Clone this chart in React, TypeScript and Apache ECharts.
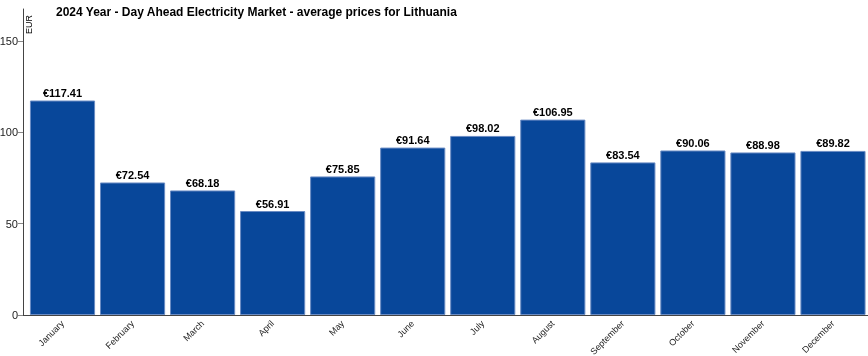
import React, { useEffect, useRef } from "react";
import * as echarts from "echarts";

const titleText = "2024 Year - Day Ahead Electricity Market - average prices for Lithuania";
const months = [
  "January", "February", "March", "April", "May", "June",
  "July", "August", "September", "October", "November", "December",
];
const prices = [117.41, 72.54, 68.18, 56.91, 75.85, 91.64, 98.02, 106.95, 83.54, 90.06, 88.98, 89.82];
const yAxisName = "EUR";

export default function App() {
  const ref = useRef<HTMLDivElement>(null);
  useEffect(() => {
    const chart = echarts.init(ref.current!, null, { renderer: "svg" });
    const font = "'Liberation Sans', Arial, sans-serif";
    chart.setOption({
      animation: false,
      textStyle: { fontFamily: font },
      title: {
        text: titleText,
        left: 51,
        top: 1,
        textStyle: { fontFamily: font, fontSize: 12, fontWeight: "bold", color: "#000" },
      },
      grid: {
        left: 27.5,
        right: 0,
        top: 9,
        bottom: 41,
        containLabel: false,
        outerBoundsMode: "none",
      },
      graphic: [
        {
          type: "text",
          x: 33,
          y: 34,
          rotation: Math.PI / 2,
          style: {
            text: yAxisName,
            font: `9px ${font}`,
            fill: "#000",
            textAlign: "left",
            textVerticalAlign: "bottom",
          },
        },
        {
          type: "line",
          shape: { x1: 23, y1: 315.5, x2: 28, y2: 315.5 },
          style: { stroke: "#444", lineWidth: 1 },
        },
      ],
      xAxis: {
        type: "category",
        data: months,
        axisLine: { lineStyle: { color: "#444", width: 1 } },
        axisTick: { alignWithLabel: true, length: 5, lineStyle: { color: "#444" } },
        axisLabel: {
          rotate: 45,
          fontSize: 9,
          color: "#222",
          fontFamily: font,
          margin: 7,
          interval: 0,
        },
      },
      yAxis: {
        type: "value",
        min: 0,
        max: 167.5,
        interval: 50,
        offset: 4.5,
        splitLine: { show: false },
        axisLine: { show: true, lineStyle: { color: "#444", width: 1 } },
        axisTick: { show: true, length: 5, lineStyle: { color: "#888" } },
        axisLabel: { showMaxLabel: false, fontSize: 11, color: "#222", fontFamily: font, margin: 5 },
      },
      series: [
        {
          type: "bar",
          data: prices,
          barCategoryGap: "7%",
          itemStyle: { color: "#08479a", borderColor: "#6a8cc4", borderWidth: 1 },
          label: {
            show: true,
            position: "top",
            distance: 2,
            formatter: (p: any) => "€" + p.value.toFixed(2),
            fontSize: 11,
            fontWeight: "bold",
            color: "#000",
            fontFamily: font,
          },
        },
      ],
    });
    return () => chart.dispose();
  }, []);
  return (
    <div
      ref={ref}
      style={{ position: "fixed", left: 0, top: 0, width: 868, height: 356 }}
    />
  );
}
